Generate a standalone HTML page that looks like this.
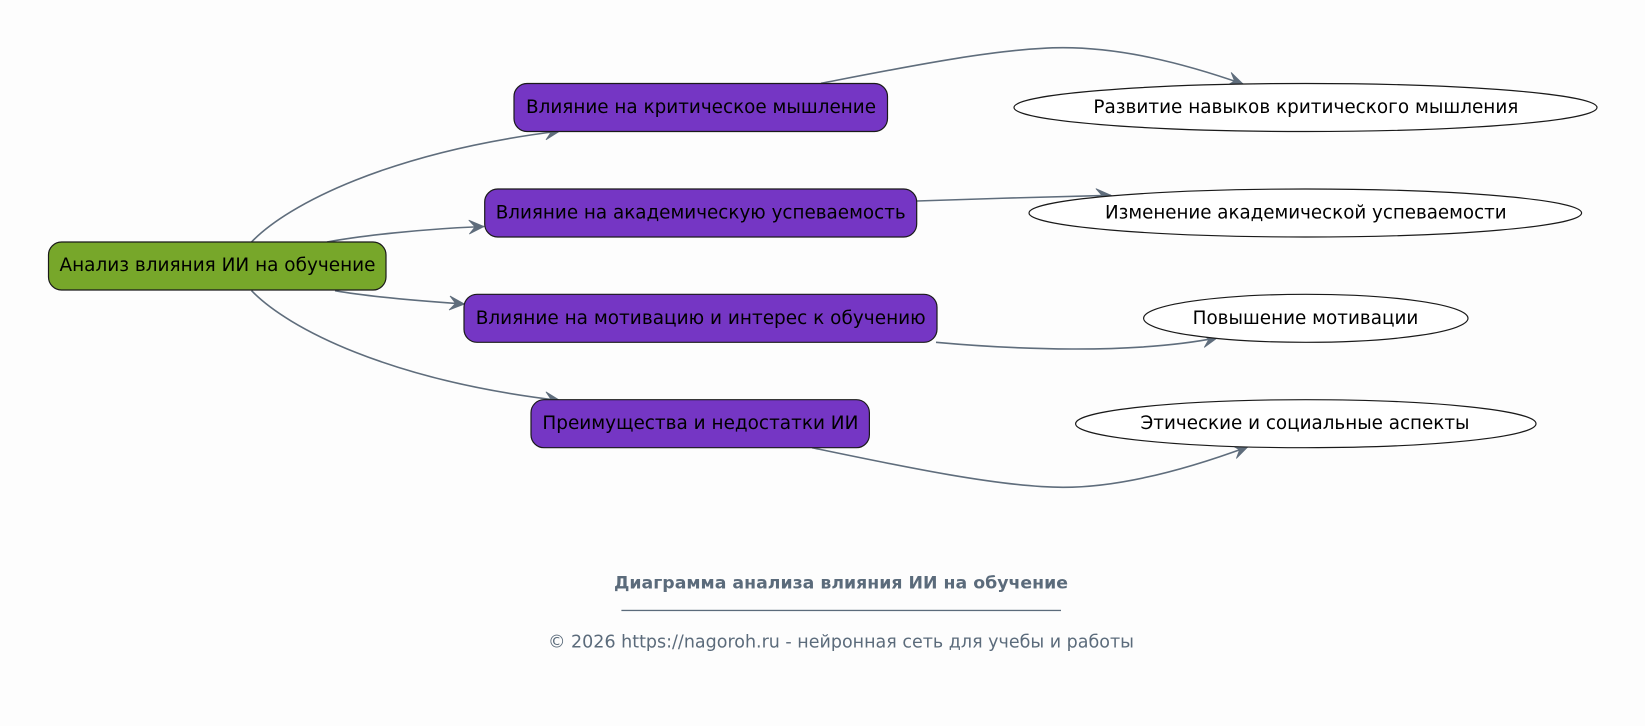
<!DOCTYPE html>
<html><head><meta charset="utf-8"><style>
html,body{margin:0;padding:0;background:#fdfdfd;}
svg{display:block;}
.n{font-family:"DejaVu Sans","Liberation Sans",sans-serif;font-size:18.5px;fill:#000;}
.e{fill:none;stroke:#5f6d7c;stroke-width:1.6;}
</style></head><body>
<svg width="1645" height="726" viewBox="0 0 1645 726" xmlns="http://www.w3.org/2000/svg">
<defs>
<marker id="a" viewBox="-1 -1 17 16" markerUnits="userSpaceOnUse" markerWidth="17" markerHeight="16" refX="15" refY="7" orient="auto">
<path d="M0,0 L15,7 L0,14 L6,7 Z" fill="#5f6d7c" stroke="#5f6d7c" stroke-width="0.8" stroke-linejoin="miter"/>
</marker>
</defs>
<rect width="1645" height="726" fill="#fdfdfd"/>

<!-- edges -->
<path class="e" marker-end="url(#a)" d="M251.5,242 C288,204 390,152 560,131"/>
<path class="e" marker-end="url(#a)" d="M327,242 C360,236 420,229 484,226.5"/>
<path class="e" marker-end="url(#a)" d="M335,290.7 C365,296 420,301 464.5,304"/>
<path class="e" marker-end="url(#a)" d="M251.5,290.6 C288,328.6 390,380.6 560,400.5"/>
<path class="e" marker-end="url(#a)" d="M821,83.3 C900,68 1000,47.7 1063,47.7 C1120,47.7 1180,62 1243,84"/>
<path class="e" marker-end="url(#a)" d="M917,201 C980,199 1050,196.5 1111,195.3"/>
<path class="e" marker-end="url(#a)" d="M936,342.3 C1010,349 1130,355 1217.6,337.7"/>
<path class="e" marker-end="url(#a)" d="M812,447.7 C895,465 1000,487.3 1063,487.3 C1120,487.3 1185,470 1248,446.7"/>

<!-- root -->
<rect x="48.5" y="242" width="337.5" height="48" rx="13" ry="13" fill="#77a72a" stroke="#1a1a1a" stroke-width="1.2"/>
<text class="n" x="217.5" y="271" text-anchor="middle" textLength="316" lengthAdjust="spacingAndGlyphs">Анализ влияния ИИ на обучение</text>

<!-- middle nodes -->
<rect x="514" y="83.5" width="373.5" height="48" rx="13" ry="13" fill="#7536c4" stroke="#1a1a1a" stroke-width="1.2"/>
<text class="n" x="701" y="113" text-anchor="middle" textLength="350" lengthAdjust="spacingAndGlyphs">Влияние на критическое мышление</text>

<rect x="484.7" y="189" width="432" height="48" rx="13" ry="13" fill="#7536c4" stroke="#1a1a1a" stroke-width="1.2"/>
<text class="n" x="700.7" y="218.5" text-anchor="middle" textLength="410" lengthAdjust="spacingAndGlyphs">Влияние на академическую успеваемость</text>

<rect x="464" y="294.3" width="473" height="48" rx="13" ry="13" fill="#7536c4" stroke="#1a1a1a" stroke-width="1.2"/>
<text class="n" x="700.7" y="323.8" text-anchor="middle" textLength="450" lengthAdjust="spacingAndGlyphs">Влияние на мотивацию и интерес к обучению</text>

<rect x="531" y="399.7" width="338.4" height="48" rx="13" ry="13" fill="#7536c4" stroke="#1a1a1a" stroke-width="1.2"/>
<text class="n" x="700.4" y="429.2" text-anchor="middle" textLength="316" lengthAdjust="spacingAndGlyphs">Преимущества и недостатки ИИ</text>

<!-- ellipses -->
<ellipse cx="1305.5" cy="107.5" rx="291.5" ry="24" fill="#ffffff" stroke="#1a1a1a" stroke-width="1.2"/>
<text class="n" x="1305.9" y="113" text-anchor="middle" textLength="425" lengthAdjust="spacingAndGlyphs">Развитие навыков критического мышления</text>

<ellipse cx="1305.3" cy="213" rx="276.3" ry="24" fill="#ffffff" stroke="#1a1a1a" stroke-width="1.2"/>
<text class="n" x="1305.8" y="218.5" text-anchor="middle" textLength="401.6" lengthAdjust="spacingAndGlyphs">Изменение академической успеваемости</text>

<ellipse cx="1305.8" cy="318.3" rx="162.2" ry="24" fill="#ffffff" stroke="#1a1a1a" stroke-width="1.2"/>
<text class="n" x="1305.5" y="323.8" text-anchor="middle" textLength="225.7" lengthAdjust="spacingAndGlyphs">Повышение мотивации</text>

<ellipse cx="1305.8" cy="423.7" rx="230.2" ry="24" fill="#ffffff" stroke="#1a1a1a" stroke-width="1.2"/>
<text class="n" x="1305" y="429.2" text-anchor="middle" textLength="329" lengthAdjust="spacingAndGlyphs">Этические и социальные аспекты</text>

<!-- footer -->
<text x="841" y="588.3" text-anchor="middle" textLength="454" lengthAdjust="spacingAndGlyphs" style="font-family:'DejaVu Sans','Liberation Sans',sans-serif;font-weight:bold;font-size:17px;fill:#5b6b7b;">Диаграмма анализа влияния ИИ на обучение</text>
<rect x="621.4" y="609.8" width="439.6" height="1.3" fill="#5b6b7b"/>
<text x="841" y="647.3" text-anchor="middle" textLength="586" lengthAdjust="spacingAndGlyphs" style="font-family:'DejaVu Sans','Liberation Sans',sans-serif;font-size:17.5px;fill:#5b6b7b;">© 2026 https://nagoroh.ru - нейронная сеть для учебы и работы</text>
</svg>
</body></html>
